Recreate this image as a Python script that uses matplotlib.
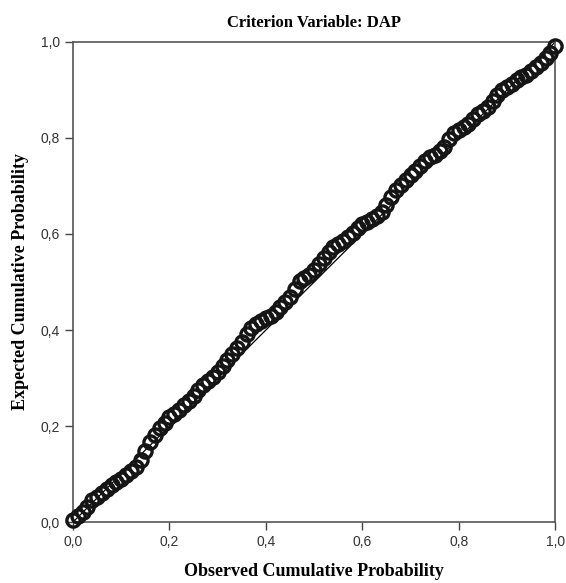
import matplotlib.pyplot as plt
from matplotlib.ticker import FixedLocator, FuncFormatter

# observed vs expected cumulative probability
observed = [0.00, 0.01, 0.02, 0.03, 0.04, 0.05, 0.06, 0.07, 0.08, 0.09,
            0.10, 0.11, 0.12, 0.13, 0.14, 0.15, 0.16, 0.17, 0.18, 0.19,
            0.20, 0.21, 0.22, 0.23, 0.24, 0.25, 0.26, 0.27, 0.28, 0.29,
            0.30, 0.31, 0.32, 0.33, 0.34, 0.35, 0.36, 0.37, 0.38, 0.39,
            0.40, 0.41, 0.42, 0.43, 0.44, 0.45, 0.46, 0.47, 0.48, 0.49,
            0.50, 0.51, 0.52, 0.53, 0.54, 0.55, 0.56, 0.57, 0.58, 0.59,
            0.60, 0.61, 0.62, 0.63, 0.64, 0.65, 0.66, 0.67, 0.68, 0.69,
            0.70, 0.71, 0.72, 0.73, 0.74, 0.75, 0.76, 0.77, 0.78, 0.79,
            0.80, 0.81, 0.82, 0.83, 0.84, 0.85, 0.86, 0.87, 0.88, 0.89,
            0.90, 0.91, 0.92, 0.93, 0.94, 0.95, 0.96, 0.97, 0.98, 0.99,
            1.00]
expected = [0.005, 0.012, 0.020, 0.032, 0.045, 0.053, 0.060, 0.068, 0.078, 0.084,
            0.090, 0.098, 0.106, 0.115, 0.130, 0.148, 0.167, 0.182, 0.195, 0.207,
            0.218, 0.225, 0.234, 0.244, 0.252, 0.262, 0.275, 0.285, 0.294, 0.302,
            0.312, 0.324, 0.337, 0.350, 0.362, 0.376, 0.392, 0.405, 0.413, 0.419,
            0.425, 0.430, 0.438, 0.448, 0.458, 0.468, 0.485, 0.502, 0.508, 0.515,
            0.525, 0.537, 0.550, 0.562, 0.572, 0.580, 0.586, 0.594, 0.603, 0.612,
            0.620, 0.626, 0.632, 0.638, 0.645, 0.660, 0.678, 0.692, 0.703, 0.713,
            0.722, 0.731, 0.742, 0.752, 0.760, 0.764, 0.772, 0.782, 0.797, 0.811,
            0.816, 0.822, 0.830, 0.840, 0.849, 0.856, 0.865, 0.877, 0.889, 0.899,
            0.906, 0.912, 0.920, 0.926, 0.932, 0.939, 0.947, 0.956, 0.966, 0.978,
            0.992]
ticks = [0.0, 0.2, 0.4, 0.6, 0.8, 1.0]

fig = plt.figure(figsize=(5.66, 5.83), dpi=100)
ax = fig.add_axes([0.129, 0.1046, 0.852, 0.8234])

ax.plot([0, 1], [0, 1], color='black', lw=0.9, zorder=2)
ax.plot(observed, expected, 'o', ms=9.5, mfc='none', mec='#151515', mew=2.4,
        zorder=3, clip_on=False)

ax.set_xlim(0, 1)
ax.set_ylim(0, 1)
ax.xaxis.set_major_locator(FixedLocator(ticks))
ax.yaxis.set_major_locator(FixedLocator(ticks))
fmt = FuncFormatter(lambda v, p: f'{v:.1f}'.replace('.', ','))
ax.xaxis.set_major_formatter(fmt)
ax.yaxis.set_major_formatter(fmt)
ax.tick_params(direction='out', length=6, width=1, color='#444444',
               labelsize=10, labelcolor='#333333')
for lbl in ax.get_xticklabels() + ax.get_yticklabels():
    lbl.set_family('Liberation Sans')
for s in ax.spines.values():
    s.set_color('#555555')
    s.set_linewidth(1.2)

ax.set_title('Criterion Variable: DAP', pad=11, family='Liberation Serif',
             weight='bold', size=12)
ax.set_xlabel('Observed Cumulative Probability', labelpad=10,
              family='Liberation Serif', weight='bold', size=13)
ax.set_ylabel('Expected Cumulative Probability', labelpad=8,
              family='Liberation Serif', weight='bold', size=13)

fig.savefig('out.png', dpi=100)
